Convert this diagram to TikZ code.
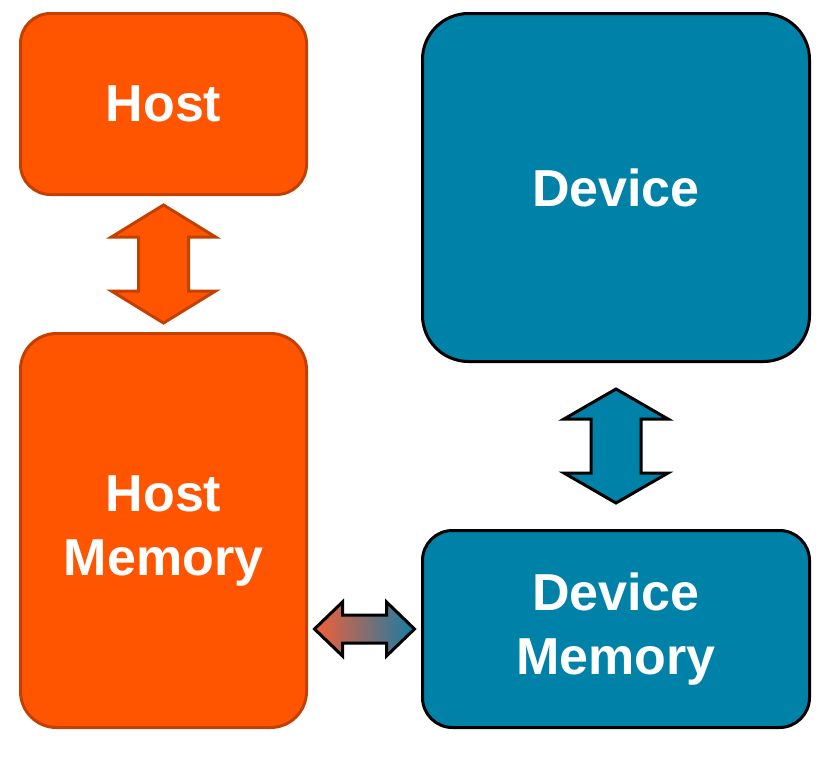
\documentclass[tikz,border=0pt]{standalone}
\usepackage{fontspec}
\setmainfont{Liberation Sans}
\usepackage{tikz}
\usetikzlibrary{calc,positioning}
\definecolor{HostOrange}{RGB}{255,85,0}
\definecolor{HostEdge}{RGB}{196,64,0}
\definecolor{DevBlue}{RGB}{0,129,167}
\definecolor{MixOrange}{RGB}{245,95,55}
\definecolor{MixBlue}{RGB}{20,125,165}
\tikzset{
  hbox/.style={draw=HostEdge,fill=HostOrange,line width=3pt,text=white,align=center,
               font=\fontsize{52}{64}\selectfont\bfseries},
  dbox/.style={draw=black,fill=DevBlue,line width=3pt,text=white,align=center,
               font=\fontsize{52}{64}\selectfont\bfseries},
  oarrow/.style={draw=HostEdge,fill=HostOrange,line width=3pt,line join=miter},
  barrow/.style={draw=black,fill=DevBlue,line width=3pt,line join=miter},
  garrow/.style={draw=black,left color=MixOrange,right color=MixBlue,line width=3pt,line join=miter},
  % double arrow along x: half length / half head width / head length / half shaft width
  pics/darrow/.style args={#1/#2/#3/#4}{code={
    \draw[pic actions] (-#1,0) -- ({-#1+#3},-#2) -- ({-#1+#3},-#4) -- ({#1-#3},-#4)
      -- ({#1-#3},-#2) -- (#1,0) -- ({#1-#3},#2) -- ({#1-#3},#4) -- ({-#1+#3},#4)
      -- ({-#1+#3},#2) -- cycle;
  }},
}
\begin{document}
\begin{tikzpicture}[x=1pt,y=-1pt]
  \useasboundingbox (0,0) rectangle (820,756);

  % boxes
  \node[hbox,rounded corners=30pt,minimum width=286pt,minimum height=181pt] (host) at (163.5,104) {Host};
  \node[hbox,rounded corners=36pt,minimum width=286pt,minimum height=394pt] (hostmem) at (163.5,530.5) {Host\\Memory};
  \node[dbox,rounded corners=46pt,minimum width=387pt,minimum height=348pt] (dev) at (616,187.5) {Device};
  \node[dbox,rounded corners=30pt,minimum width=387pt,minimum height=197pt] (devmem) at (616,629) {Device\\Memory};

  % arrows between boxes
  \pic[oarrow,rotate=90] at ($(host.south)!0.5!(hostmem.north)$) {darrow={59/52/32/25}};
  \pic[barrow,rotate=90] at ($(dev.south)!0.5!(devmem.north)$) {darrow={57/52/30/25}};
  \pic[garrow] at ($(hostmem.east|-0,629)!0.5!(devmem.west)$) {darrow={50/27/28/14}};
\end{tikzpicture}
\end{document}
